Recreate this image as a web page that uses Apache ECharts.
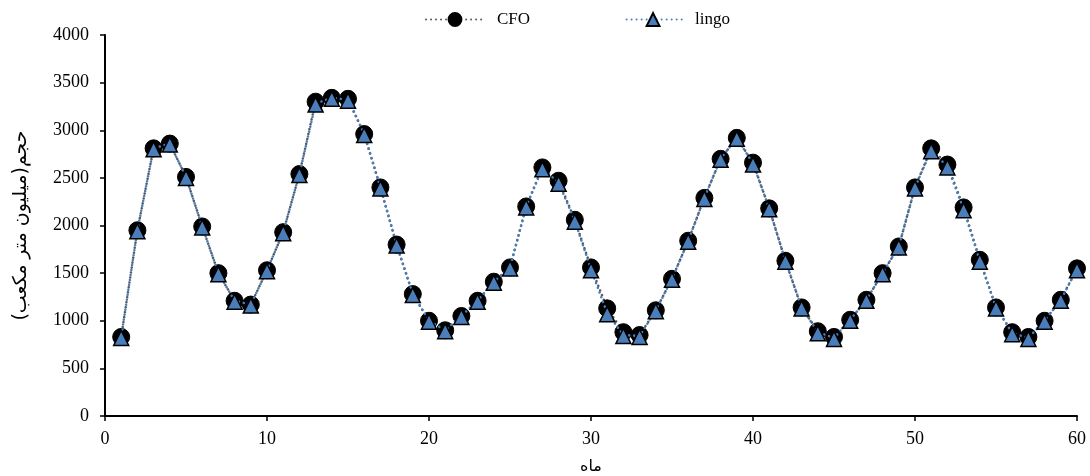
<!DOCTYPE html>
<html>
<head>
<meta charset="utf-8">
<script src="https://cdn.jsdelivr.net/npm/echarts@6/dist/echarts.min.js"></script>
<style>
  html, body { margin: 0; padding: 0; background: #fff; }
  #chart { width: 1090px; height: 476px; }
</style>
</head>
<body>
<div id="chart"></div>
<script>
// Months 1..60
const months = Array.from({ length: 60 }, (_, i) => i + 1);

// Reservoir volume (million m³) from the CFO model
const cfoValues = [
  830, 1950, 2810, 2860, 2510, 1990, 1500, 1210, 1170, 1530,
  1930, 2540, 3300, 3340, 3330, 2960, 2400, 1800, 1280, 1000,
  900, 1050, 1210, 1410, 1560, 2200, 2610, 2470, 2060, 1560,
  1130, 880, 850, 1110, 1440, 1840, 2290, 2700, 2920, 2660,
  2180, 1630, 1140, 890, 830, 1010, 1220, 1500, 1780, 2400,
  2810, 2640, 2190, 1640, 1140, 880, 830, 1000, 1220, 1550
];

// Reservoir volume (million m³) from the LINGO solution
const lingoValues = [
  830, 1950, 2810, 2860, 2510, 1990, 1500, 1210, 1170, 1530,
  1930, 2540, 3280, 3340, 3320, 2960, 2400, 1800, 1280, 1000,
  900, 1050, 1210, 1410, 1560, 2200, 2600, 2450, 2050, 1540,
  1080, 850, 840, 1110, 1440, 1840, 2290, 2700, 2920, 2650,
  2180, 1630, 1140, 880, 820, 1010, 1220, 1500, 1780, 2400,
  2790, 2620, 2170, 1630, 1140, 870, 820, 1000, 1220, 1540
];

const yTicks = { min: 0, max: 4000, interval: 500 };
const xTicks = { min: 0, max: 60, interval: 10 };

const pairs = (vals) => months.map((m, i) => [m, vals[i]]);

const serif = '"Liberation Serif", "Times New Roman", serif';
const arabic = '"DejaVu Sans", sans-serif';

const chart = echarts.init(document.getElementById('chart'), null, { renderer: 'canvas' });
chart.setOption({
  animation: false,
  backgroundColor: '#ffffff',
  textStyle: { fontFamily: serif, color: '#000' },
  grid: { left: 105, right: 13, top: 35, bottom: 60, containLabel: false, outerBoundsMode: 'none' },
  legend: {
    top: 6,
    left: 420,
    itemWidth: 58,
    itemHeight: 16,
    itemGap: 93,
    textStyle: { fontFamily: serif, fontSize: 17, color: '#000', padding: [0, 0, 0, 8] },
    data: ['CFO', 'lingo']
  },
  xAxis: {
    type: 'value',
    min: xTicks.min, max: xTicks.max, interval: xTicks.interval,
    name: 'ماه',
    nameLocation: 'middle',
    nameGap: 43,
    nameTextStyle: { fontFamily: arabic, fontSize: 16, color: '#000' },
    axisLine: { show: true, lineStyle: { color: '#000', width: 2 } },
    axisTick: { show: true, length: 5, lineStyle: { color: '#000', width: 1.5 } },
    axisLabel: { fontFamily: serif, fontSize: 18, color: '#000', margin: 14 },
    splitLine: { show: false }
  },
  yAxis: {
    type: 'value',
    min: yTicks.min, max: yTicks.max, interval: yTicks.interval,
    name: 'حجم(میلیون متر مکعب)',
    nameLocation: 'middle',
    nameGap: 74,
    nameRotate: 90,
    nameTextStyle: { fontFamily: arabic, fontSize: 19, color: '#000' },
    axisLine: { show: true, lineStyle: { color: '#000', width: 2 } },
    axisTick: { show: true, length: 5, lineStyle: { color: '#000', width: 1.5 } },
    axisLabel: { fontFamily: serif, fontSize: 18, color: '#000', margin: 16, formatter: (v) => String(v) },
    splitLine: { show: false }
  },
  series: [
    {
      name: 'CFO',
      type: 'line',
      data: pairs(cfoValues),
      symbol: 'circle',
      symbolSize: 17,
      itemStyle: { color: '#000000', borderColor: '#000000', borderWidth: 1 },
      lineStyle: { color: '#595959', width: 2.6, type: [0.01, 5], cap: 'round' },
      z: 2
    },
    {
      name: 'lingo',
      type: 'line',
      data: pairs(lingoValues),
      symbol: 'triangle',
      symbolSize: 15,
      symbolOffset: [0, 1],
      itemStyle: { color: '#4a7ebb', borderColor: '#000000', borderWidth: 1.5 },
      lineStyle: { color: '#4a7ebb', width: 2.6, type: [0.01, 5], dashOffset: 2.5, cap: 'round' },
      z: 3
    }
  ]
});
</script>
</body>
</html>
